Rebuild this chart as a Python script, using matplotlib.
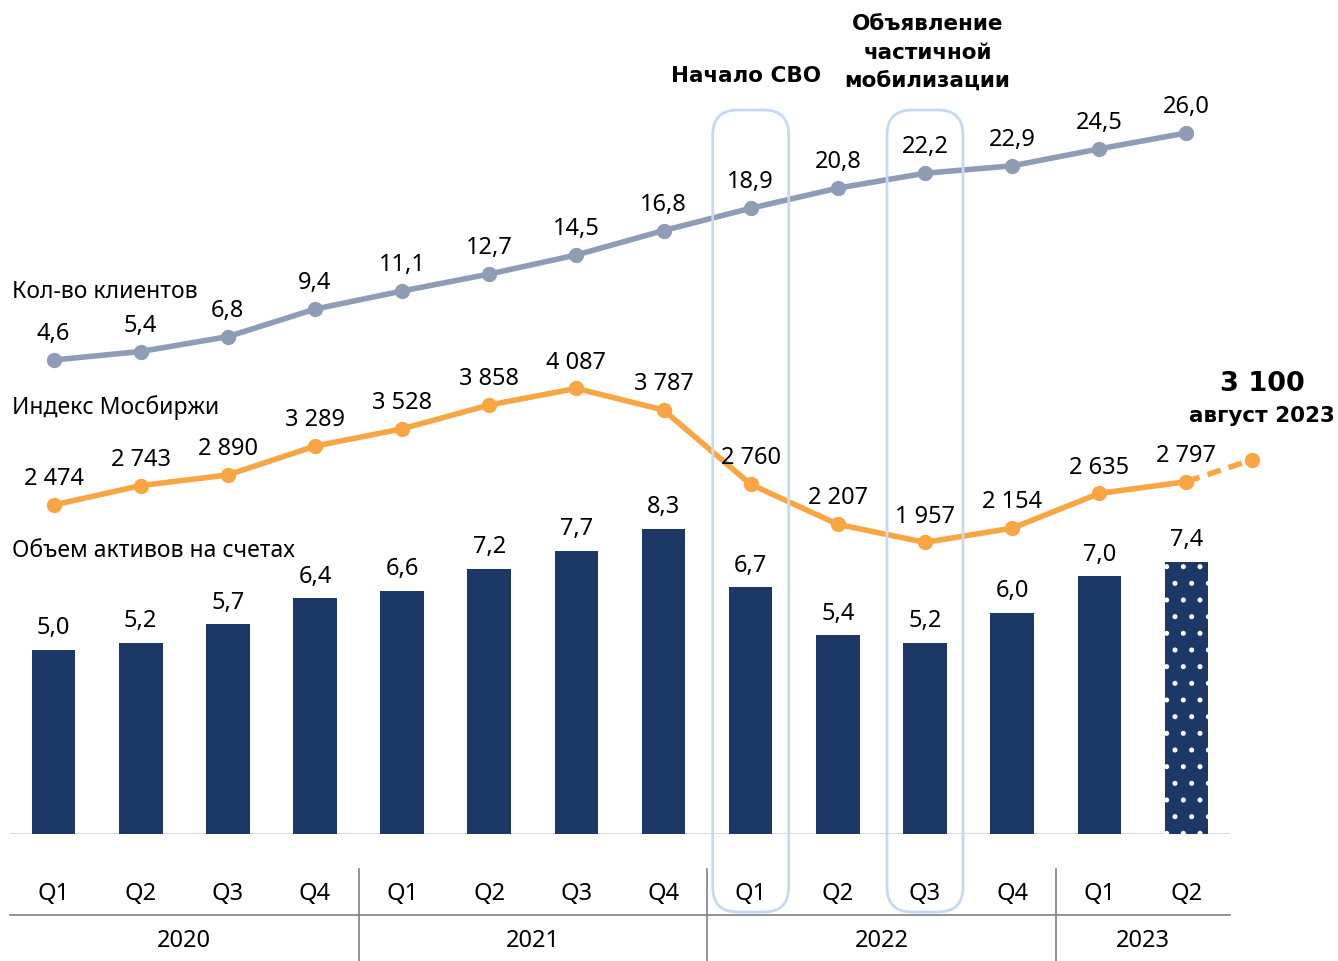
import matplotlib
matplotlib.use("Agg")
import matplotlib.pyplot as plt
import matplotlib.transforms as mtransforms
from matplotlib.patches import FancyBboxPatch
import numpy as np

plt.rcParams['font.family'] = ['Noto Sans', 'DejaVu Sans']
plt.rcParams['hatch.linewidth'] = 1.2

quarters = ["Q1", "Q2", "Q3", "Q4", "Q1", "Q2", "Q3", "Q4", "Q1", "Q2", "Q3", "Q4", "Q1", "Q2"]
years = ["2020", "2021", "2022", "2023"]
year_spans = [(0, 3), (4, 7), (8, 11), (12, 13)]
assets = [5.0, 5.2, 5.7, 6.4, 6.6, 7.2, 7.7, 8.3, 6.7, 5.4, 5.2, 6.0, 7.0, 7.4]
clients = [4.6, 5.4, 6.8, 9.4, 11.1, 12.7, 14.5, 16.8, 18.9, 20.8, 22.2, 22.9, 24.5, 26.0]
moex = [2474, 2743, 2890, 3289, 3528, 3858, 4087, 3787, 2760, 2207, 1957, 2154, 2635, 2797]
moex_aug = 3100
aug_pos = 13.75
highlight = [8, 10]

BAR = "#1B3866"
GREY = "#8E9CB6"
ORANGE = "#F9A541"
BOX = "#C6D9F0"
FS = 17
BOLD = ['DejaVu Sans']

W, H = 1338, 961
fig = plt.figure(figsize=(W / 100, H / 100), dpi=100)
base_px = 834
ax = fig.add_axes([10 / W, (H - base_px) / H, 1220 / W, base_px / H])
ax.set_xlim(-0.5, 13.5)
ax.set_ylim(0, base_px / 36.8)
for s in ax.spines.values():
    s.set_visible(False)
ax.set_xticks([])
ax.set_yticks([])
ax.patch.set_alpha(0)

x = np.arange(len(quarters))
ax.bar(x[:-1], assets[:-1], width=0.5, color=BAR, zorder=2)
ax.bar(x[-1:], assets[-1:], width=0.5, color=BAR, edgecolor="white", linewidth=0, hatch=".", zorder=2)
for xi, v in zip(x, assets):
    ax.annotate(f"{v:.1f}".replace(".", ","), (xi, v), xytext=(0, 7), textcoords="offset points",
                ha="center", va="bottom", fontsize=FS)

# baseline
ax.axhline(0, color="#D9D9D9", lw=1.5, zorder=1)

# clients line
ax2 = ax.twinx()
ax2.set_ylim((408.8 - base_px) / 10.61, 408.8 / 10.61)
ax2.axis("off")
ax2.plot(x, clients, color=GREY, lw=4, marker="o", ms=10, zorder=3)
for xi, v in zip(x, clients):
    ax2.annotate(f"{v:.1f}".replace(".", ","), (xi, v), xytext=(0, 10), textcoords="offset points",
                 ha="center", va="bottom", fontsize=FS)

# moex line
ax3 = ax.twinx()
ax3.set_ylim((683.9 - base_px) / 0.0723, 683.9 / 0.0723)
ax3.axis("off")
ax3.plot(x, moex, color=ORANGE, lw=4, marker="o", ms=10, zorder=3)
ax3.plot([x[-1], aug_pos], [moex[-1], moex_aug], color=ORANGE, lw=4, ls=(0, (2.5, 1.5)), zorder=3, clip_on=False)
ax3.plot([aug_pos], [moex_aug], color=ORANGE, marker="o", ms=10, zorder=3, clip_on=False)
for xi, v in zip(x, moex):
    lab = f"{v:,}".replace(",", " ")
    ax3.annotate(lab, (xi, v), xytext=(0, 10), textcoords="offset points",
                 ha="center", va="bottom", fontsize=FS)

bt = mtransforms.blended_transform_factory(ax.transData, fig.transFigure)
ax.text(aug_pos + 0.12, 1 - 384 / H, f"{moex_aug:,}".replace(",", " "), transform=bt, ha="center", va="center",
        fontsize=19.5, fontweight="bold", family=BOLD, clip_on=False)
ax.text(aug_pos + 0.12, 1 - 416 / H, "август 2023", transform=bt, ha="center", va="center",
        fontsize=15.5, fontweight="bold", family=BOLD, clip_on=False)

# series labels
fig.text(12 / W, 1 - 292 / H, "Кол-во клиентов", fontsize=16.5, ha="left", va="center")
fig.text(12 / W, 1 - 408 / H, "Индекс Мосбиржи", fontsize=16.5, ha="left", va="center")
fig.text(12 / W, 1 - 551 / H, "Объем активов на счетах", fontsize=16.5, ha="left", va="center")

# category axis
for xi, q in zip(x, quarters):
    ax.text(xi, 1 - 894 / H, q, transform=bt, ha="center", va="center", fontsize=FS, clip_on=False)
for (a, b), yr in zip(year_spans, years):
    ax.text((a + b) / 2, 1 - 941 / H, yr, transform=bt, ha="center", va="center", fontsize=FS, clip_on=False)
fig.add_artist(plt.Line2D([10 / W, 1230 / W], [1 - 915 / H, 1 - 915 / H], color="#808080", lw=1.2))
for (a, b) in year_spans[1:]:
    xs = a - 0.5
    ax.plot([xs, xs], [1 - 869 / H, 0], transform=bt, color="#808080", lw=1.2, clip_on=False)

# highlight boxes
def data_to_px(xv):
    x0, x1 = ax.get_xlim()
    return 10 + (xv - x0) * 1220 / (x1 - x0)

for hi in highlight:
    cx = data_to_px(hi)
    w_px, top, bot = 76, 110, 912
    patch = FancyBboxPatch(((cx - w_px / 2) / 100, (H - bot) / 100), w_px / 100, (bot - top) / 100,
                           boxstyle="round,pad=0,rounding_size=0.25", transform=fig.dpi_scale_trans,
                           fill=False, edgecolor=BOX, lw=2, zorder=5)
    fig.add_artist(patch)

ax.text(7.95, 1 - 76 / H, "Начало СВО", transform=bt, ha="center", va="center", fontsize=15.5,
        fontweight="bold", family=BOLD, clip_on=False)
for line, ypx in zip(["Объявление", "частичной", "мобилизации"], [24, 53, 82]):
    ax.text(10.03, 1 - ypx / H, line, transform=bt, ha="center", va="center",
            fontsize=15.5, fontweight="bold", family=BOLD, clip_on=False)

fig.savefig("out.png", dpi=100)
